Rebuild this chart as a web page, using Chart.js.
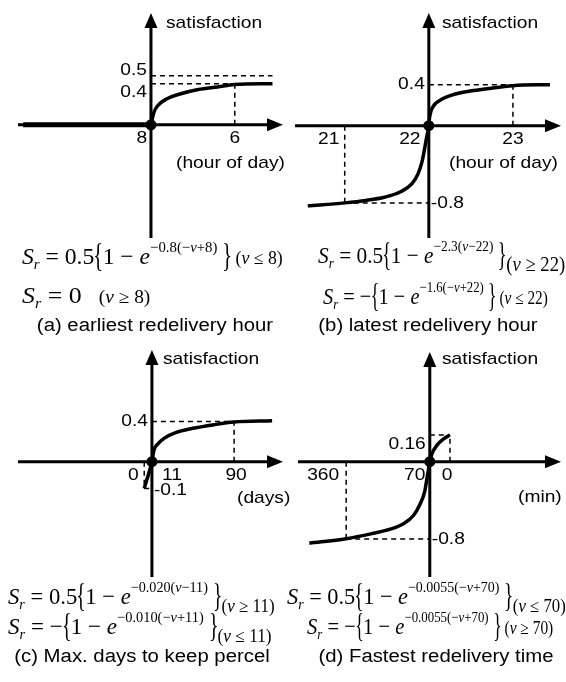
<!DOCTYPE html>
<html>
<head>
<meta charset="utf-8">
<script src="https://cdn.jsdelivr.net/npm/chart.js@4.4.1/dist/chart.umd.min.js"></script>
<style>
html, body { margin: 0; padding: 0; background: #fff; }
#wrap { position: relative; width: 566px; height: 682px; overflow: hidden; }
canvas { position: absolute; }
.f {
    position: absolute; white-space: nowrap; line-height: 34px;
    font-family: "Liberation Serif", "Times New Roman", serif; font-size: 24px;
    transform-origin: 0 50%; z-index: 2;
}
.f sup { font-size: 15px; vertical-align: 12px; line-height: 0; }
.f sub { font-size: 15px; vertical-align: -5px; line-height: 0; }
.f .br { display: inline-block; font-size: 26px; transform: scale(0.8, 1.3); margin: 0 -2px; }
.f .cd { font-size: 18px; margin-left: 4px; }
.f .lo { position: relative; top: 8px; margin-left: 0; }
.f .big { font-size: 21px; }
.cap {
    position: absolute; white-space: nowrap; z-index: 2;
    font-family: "Liberation Sans", Arial, sans-serif; font-size: 18px;
    transform-origin: 50% 50%;
}
</style>
</head>
<body>
<div id="wrap">
    <canvas id="pa"></canvas>
    <canvas id="pb"></canvas>
    <canvas id="pc"></canvas>
    <canvas id="pd"></canvas>

    <div class="f" id="fa1"><i>S</i><sub><i>r</i></sub> = 0.5<span class="br">{</span>1 − <i>e</i><sup>−0.8(−<i>v</i>+8)</sup> <span class="br">}</span><span class="cd">(<i>v</i> ≤ 8)</span></div>
    <div class="f" id="fa2"><i>S</i><sub><i>r</i></sub> = 0 &nbsp;<span class="cd">(<i>v</i> ≥ 8)</span></div>
    <div class="f" id="fb1"><i>S</i><sub><i>r</i></sub> = 0.5<span class="br">{</span>1 − <i>e</i><sup>−2.3(<i>v</i>−22)</sup> <span class="br">}</span><span class="cd lo big">(<i>v</i> ≥ 22)</span></div>
    <div class="f" id="fb2"><i>S</i><sub><i>r</i></sub> = −<span class="br">{</span>1 − <i>e</i><sup>−1.6(−<i>v</i>+22)</sup> <span class="br">}</span><span class="cd">(<i>v</i> ≤ 22)</span></div>
    <div class="f" id="fc1"><i>S</i><sub><i>r</i></sub> = 0.5<span class="br">{</span>1 − <i>e</i><sup>−0.020(<i>v</i>−11)</sup> <span class="br">}</span><span class="cd lo">(<i>v</i> ≥ 11)</span></div>
    <div class="f" id="fc2"><i>S</i><sub><i>r</i></sub> = −<span class="br">{</span>1 − <i>e</i><sup>−0.010(−<i>v</i>+11)</sup> <span class="br">}</span><span class="cd lo">(<i>v</i> ≤ 11)</span></div>
    <div class="f" id="fd1"><i>S</i><sub><i>r</i></sub> = 0.5<span class="br">{</span>1 − <i>e</i><sup>−0.0055(−<i>v</i>+70)</sup> <span class="br">}</span><span class="cd lo">(<i>v</i> ≤ 70)</span></div>
    <div class="f" id="fd2"><i>S</i><sub><i>r</i></sub> = −<span class="br">{</span>1 − <i>e</i><sup>−0.0055(−<i>v</i>+70)</sup> <span class="br">}</span><span class="cd">(<i>v</i> ≥ 70)</span></div>

    <div class="cap" id="ca">(a) earliest redelivery hour</div>
    <div class="cap" id="cb">(b) latest redelivery hour</div>
    <div class="cap" id="cc">(c) Max. days to keep percel</div>
    <div class="cap" id="cd">(d) Fastest redelivery time</div>
</div>

<script>
// values (schematic units per panel)

// (a) earliest redelivery hour
const aFlatX = [-3.05, 0];
const aFlatY = [0, 0];
const aCurveX = [0, 0.07, 0.16, 0.37, 0.67, 1.13, 1.59, 2.0, 2.9];
const aCurveY = [0, 0.124, 0.19, 0.257, 0.305, 0.352, 0.378, 0.402, 0.41];
const aTickX = [0, 2];
const aTickLabels = ["8", "6"];
const aLevelY = [0.49, 0.41];
const aLevelLabels = ["0.5", "0.4"];
const aGuides = [[0, 0.49, 2.9, 0.49], [0, 0.41, 2, 0.41], [2, 0, 2, 0.41]];

// (b) latest redelivery hour
const bCurveX = [20.56, 21.0, 21.25, 21.47, 21.67, 21.8, 21.87, 21.92, 21.95, 21.97, 22.0,
                 22.01, 22.046, 22.122, 22.237, 22.423, 22.694, 23.0, 23.44];
const bCurveY = [-0.8, -0.77, -0.746, -0.714, -0.657, -0.578, -0.483, -0.356, -0.229, -0.133, 0,
                 0.089, 0.184, 0.248, 0.295, 0.336, 0.369, 0.4, 0.41];
const bTickX = [21, 22, 23];
const bTickLabels = ["21", "22", "23"];
const bLevelY = [0.41, -0.771];
const bLevelLabels = ["0.4", "-0.8"];
const bGuides = [[22, 0.41, 23, 0.41], [23, 0, 23, 0.41], [21, -0.771, 22, -0.771], [21, 0, 21, -0.771]];

// (c) max. days to keep parcel
const cCurveX = [3.6, 6.4, 11, 12.9, 16.8, 23.0, 33.8, 49.2, 70.9, 90, 126.5];
const cCurveY = [-0.267, -0.171, 0, 0.114, 0.178, 0.235, 0.289, 0.33, 0.369, 0.395, 0.407];
const cTickX = [3.6, 11, 90];
const cTickLabels = ["0", "11", "90"];
const cLevelY = [0.4, -0.267];
const cLevelLabels = ["0.4", "-0.1"];
const cGuides = [[11, 0.4, 90, 0.4], [90, 0, 90, 0.4], [3.6, 0, 3.6, -0.267], [3.6, -0.267, 11, -0.267]];

// (d) fastest redelivery time (minutes, axis runs right to left)
const dCurveX = [487.7, 360, 271, 204.3, 160, 126.7, 104.3, 87.7, 80, 74.3, 70, 62, 45.5, 22.4, 0];
const dCurveY = [-0.812, -0.768, -0.717, -0.67, -0.616, -0.536, -0.426, -0.298, -0.171, -0.076, 0,
                 0.083, 0.162, 0.226, 0.267];
const dTickX = [360, 70, 0];
const dTickLabels = ["360", "70", "0"];
const dLevelY = [0.267, -0.771];
const dLevelLabels = ["0.16", "-0.8"];
const dGuides = [[70, 0.267, 0, 0.267], [0, 0, 0, 0.267], [360, -0.771, 70, -0.771], [360, 0, 360, -0.771]];

const yTitle = "satisfaction";

const SX = 1.13; // the picture is stretched sideways a little
const SANS = '17px "Liberation Sans", Arial, sans-serif';

const panels = [
    {
        id: "pa", box: [0, 0, 300, 240], origin: [151, 125], unit: [43.5, 105], x0: 0, reverse: false,
        xAxis: [18, 283], yAxis: [13, 238], yTitlePos: [166, 23], xTitlePos: [176, 163], xTitle: "(hour of day)",
        curveX: aCurveX, curveY: aCurveY, flatX: aFlatX, flatY: aFlatY, guides: aGuides,
        tickX: aTickX, tickLabels: aTickLabels, tickDx: [-9, 0],
        levelY: aLevelY, levelLabels: aLevelLabels, levelDy: [-5, 9], levelSide: ["left", "left"],
    },
    {
        id: "pb", box: [283, 0, 283, 240], origin: [146, 126], unit: [87.5, 105], x0: 22, reverse: false,
        xAxis: [12, 278], yAxis: [13, 238], yTitlePos: [159, 23], xTitlePos: [166, 163], xTitle: "(hour of day)",
        curveX: bCurveX, curveY: bCurveY, guides: bGuides,
        tickX: bTickX, tickLabels: bTickLabels, tickDx: [-16, -19, 0],
        levelY: bLevelY, levelLabels: bLevelLabels, levelDy: [0, 0], levelSide: ["left", "right"],
    },
    {
        id: "pc", box: [0, 330, 300, 250], origin: [152, 132], unit: [1.08, 105], x0: 11, reverse: false,
        xAxis: [18, 283], yAxis: [20, 247], yTitlePos: [163, 29], xTitlePos: [237, 168], xTitle: "(days)",
        curveX: cCurveX, curveY: cCurveY, guides: cGuides,
        tickX: cTickX, tickLabels: cTickLabels, tickDx: [-11, 20, 2],
        levelY: cLevelY, levelLabels: cLevelLabels, levelDy: [0, 2], levelSide: ["left", "right"],
    },
    {
        id: "pd", box: [283, 330, 283, 250], origin: [147, 132], unit: [0.3, 105], x0: 70, reverse: true,
        xAxis: [15, 278], yAxis: [22, 247], yTitlePos: [159, 29], xTitlePos: [235, 167], xTitle: "(min)",
        curveX: dCurveX, curveY: dCurveY, guides: dGuides,
        tickX: dTickX, tickLabels: dTickLabels, tickDx: [-23, -15, -3],
        levelY: dLevelY, levelLabels: dLevelLabels, levelDy: [9, 0], levelSide: ["left", "right"],
    },
];

function label(ctx, s, x, y, align) {
    ctx.save();
    ctx.translate(x, y);
    ctx.scale(SX, 1);
    ctx.font = SANS;
    ctx.fillStyle = "#000";
    ctx.textAlign = align;
    ctx.textBaseline = "middle";
    ctx.fillText(s, 0, 0);
    ctx.restore();
}

// axes through the origin with arrow heads, plus all the labels
const schematic = {
    id: "schematic",
    beforeDatasetsDraw(chart, args, o) {
        const ctx = chart.ctx;
        const ox = chart.scales.x.getPixelForValue(o.x0);
        const oy = chart.scales.y.getPixelForValue(0);
        ctx.save();
        ctx.strokeStyle = "#000";
        ctx.fillStyle = "#000";
        ctx.lineWidth = 3;
        ctx.beginPath();
        ctx.moveTo(o.xAxis[0], oy);
        ctx.lineTo(o.xAxis[1] - 12, oy);
        ctx.moveTo(ox, o.yAxis[1]);
        ctx.lineTo(ox, o.yAxis[0] + 12);
        ctx.stroke();
        ctx.beginPath();
        ctx.moveTo(o.xAxis[1], oy);
        ctx.lineTo(o.xAxis[1] - 16, oy - 6.5);
        ctx.lineTo(o.xAxis[1] - 16, oy + 6.5);
        ctx.closePath();
        ctx.moveTo(ox, o.yAxis[0]);
        ctx.lineTo(ox - 6.5, o.yAxis[0] + 15);
        ctx.lineTo(ox + 6.5, o.yAxis[0] + 15);
        ctx.closePath();
        ctx.fill();
        ctx.restore();
    },
    afterDraw(chart, args, o) {
        const ctx = chart.ctx;
        const xs = chart.scales.x, ys = chart.scales.y;
        const ox = xs.getPixelForValue(o.x0);
        const oy = ys.getPixelForValue(0);
        o.tickX.forEach((v, i) => {
            label(ctx, o.tickLabels[i], xs.getPixelForValue(v) + o.tickDx[i], oy + 14, "center");
        });
        o.levelY.forEach((v, i) => {
            const y = ys.getPixelForValue(v) + o.levelDy[i];
            if (o.levelSide[i] === "left") label(ctx, o.levelLabels[i], ox - 4, y, "right");
            else label(ctx, o.levelLabels[i], ox + 2, y, "left");
        });
        label(ctx, yTitle, o.yTitlePos[0], o.yTitlePos[1], "left");
        label(ctx, o.xTitle, o.xTitlePos[0], o.xTitlePos[1], "left");
    },
};

function toPoints(xs, ys) {
    return xs.map((x, i) => ({ x, y: ys[i] }));
}

panels.forEach((p) => {
    const cv = document.getElementById(p.id);
    const [left, top, w, h] = p.box;
    cv.width = w;
    cv.height = h;
    cv.style.left = left + "px";
    cv.style.top = top + "px";

    const [ox, oy] = p.origin;
    const [ux, uy] = p.unit;
    let xmin, xmax;
    if (p.reverse) {
        xmax = p.x0 + ox / ux;
        xmin = p.x0 - (w - ox) / ux;
    } else {
        xmin = p.x0 - ox / ux;
        xmax = p.x0 + (w - ox) / ux;
    }

    const datasets = [
        {
            data: [{ x: p.x0, y: 0 }], showLine: false, pointRadius: 5.5,
            pointBackgroundColor: "#000", pointBorderWidth: 0, order: 0, clip: false,
        },
        {
            data: toPoints(p.curveX, p.curveY), showLine: true, borderColor: "#000", borderWidth: 3.5,
            pointRadius: 0, cubicInterpolationMode: "monotone", order: 1, clip: false,
        },
    ];
    if (p.flatX) {
        datasets.push({
            data: toPoints(p.flatX, p.flatY), showLine: true, borderColor: "#000", borderWidth: 5,
            pointRadius: 0, order: 1, clip: false,
        });
    }
    p.guides.forEach((g) => {
        datasets.push({
            data: [{ x: g[0], y: g[1] }, { x: g[2], y: g[3] }], showLine: true, borderColor: "#000",
            borderWidth: 1.5, borderDash: [5, 4], pointRadius: 0, order: 2, clip: false,
        });
    });

    new Chart(cv, {
        type: "scatter",
        data: { datasets },
        options: {
            responsive: false,
            animation: false,
            devicePixelRatio: 1,
            layout: { padding: 0 },
            events: [],
            plugins: {
                legend: { display: false },
                tooltip: { enabled: false },
                schematic: p,
            },
            scales: {
                x: { type: "linear", display: false, min: xmin, max: xmax, reverse: p.reverse },
                y: { type: "linear", display: false, min: -(h - oy) / uy, max: oy / uy },
            },
        },
        plugins: [schematic],
    });
});

// formula lines: left edge, vertical centre, width they take in the picture
const formulaLayout = [
    ["fa1", 22, 257, 261], ["fa2", 22, 296, 128],
    ["fb1", 318, 255, 247], ["fb2", 323, 297, 225],
    ["fc1", 8, 597, 267], ["fc2", 8, 627, 264],
    ["fd1", 287, 597, 279], ["fd2", 307, 627, 246],
];
formulaLayout.forEach(([id, x, y, w]) => {
    const el = document.getElementById(id);
    el.style.left = x + "px";
    el.style.top = y + "px";
    const s = w / el.offsetWidth;
    el.style.transform = `translateY(-50%) scaleX(${s})`;
});

const captionLayout = [["ca", 155, 325], ["cb", 428, 325], ["cc", 142, 656], ["cd", 436, 656]];
captionLayout.forEach(([id, x, y]) => {
    const el = document.getElementById(id);
    el.style.left = x + "px";
    el.style.top = y + "px";
    el.style.transform = `translate(-50%, -50%) scaleX(${SX})`;
});
</script>
</body>
</html>
